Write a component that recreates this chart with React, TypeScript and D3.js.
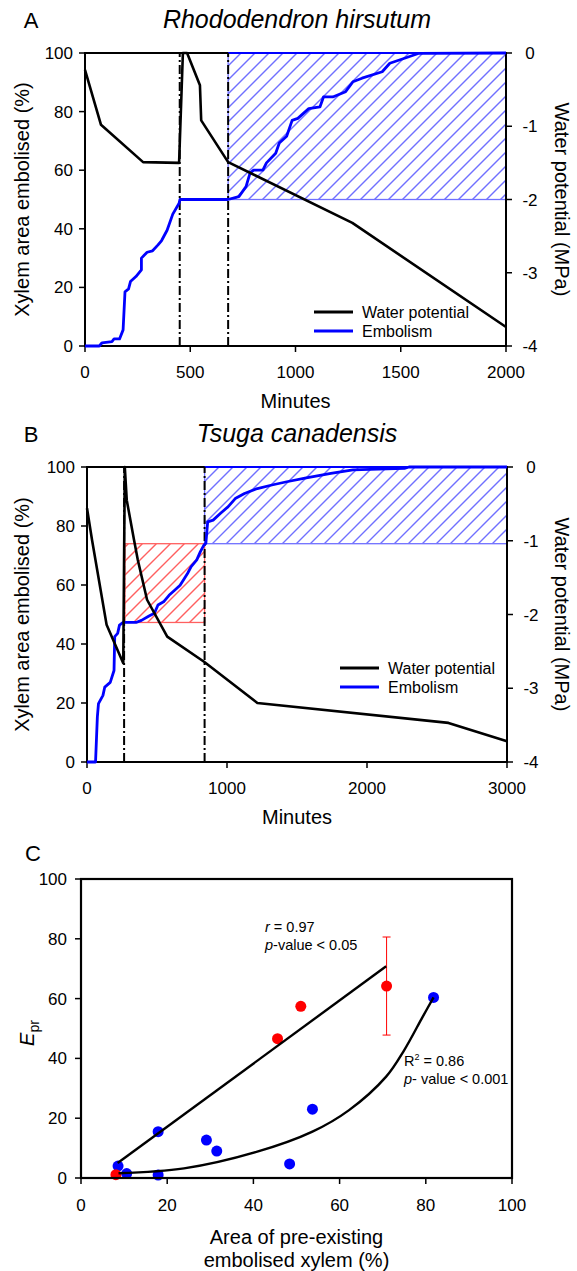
import React from 'react';
import * as d3 from 'd3';

const W = 577;
const H = 1271;
const FONT = "'Liberation Sans', Arial, Helvetica, sans-serif";

// ---------- shared ticks ----------
const pctTicks = [0, 20, 40, 60, 80, 100];
const wpTicks = [0, -1, -2, -3, -4];

// ---------- Panel A: Rhododendron hirsutum ----------
const aXTicks = [0, 500, 1000, 1500, 2000];
const aWpMin = [0, 76, 276, 447, 465, 485, 546, 552, 680, 1270, 2000];
const aWpMPa = [-0.23, -0.98, -1.49, -1.5, 0, 0, -0.44, -0.92, -1.49, -2.32, -3.74];
const aEmbMin = [0, 68, 81, 128, 138, 164, 181, 190, 207, 216, 242, 268, 268, 295, 321, 347, 364, 390, 417, 447, 451, 679, 731, 765, 784, 801, 845, 862, 906, 923, 958, 984, 1011, 1063, 1116, 1133, 1177, 1238, 1273, 1316, 1412, 1448, 1518, 1587, 2000];
const aEmbPct = [0, 0, 1.1, 1.5, 2.4, 2.4, 5.5, 18.5, 19.5, 22, 23.7, 26, 30, 32, 32.5, 34.5, 36, 39.5, 45, 48.7, 50, 50, 51, 54.4, 59, 60, 60, 62.5, 65.8, 69.3, 71.6, 77, 77.7, 81, 81.6, 85, 85, 86.8, 90.2, 91.4, 93.6, 96.5, 98.2, 99.9, 100];
const aEvents = [450, 680];
const aBlueHatch = [680, 2000, 50, 100];

// ---------- Panel B: Tsuga canadensis ----------
const bXTicks = [0, 1000, 2000, 3000];
const bWpMin = [0, 36, 140, 259, 270, 284, 336, 363, 429, 573, 836, 1217, 2582, 3000];
const bWpMPa = [-0.56, -0.99, -2.14, -2.66, 0, -0.45, -0.99, -1.26, -1.8, -2.3, -2.64, -3.2, -3.47, -3.72];
const bEmbMin = [0, 61, 74, 82, 114, 127, 166, 193, 198, 219, 232, 258, 350, 389, 443, 481, 507, 547, 586, 626, 665, 718, 744, 784, 810, 836, 849, 862, 901, 954, 1007, 1059, 1125, 1217, 1321, 1427, 1557, 1742, 1900, 2267, 2300, 3000];
const bEmbPct = [0, 0, 15.3, 19.8, 22.6, 25.4, 27, 31, 42.5, 43.6, 46.4, 47.3, 47.3, 48, 49.5, 50.4, 53.2, 54.3, 56.5, 58.2, 59.9, 63.9, 66.2, 68.5, 71.3, 73.6, 74.1, 81.4, 82, 84.3, 86.5, 89.3, 91, 92.7, 93.9, 95, 96.2, 97.8, 99, 99.5, 100, 100];
const bEvents = [265, 840];
const bRedHatch = [271, 840, 47.3, 74];
const bBlueHatch = [840, 3000, 74, 100];

// ---------- Panel C ----------
const cTicks = [0, 20, 40, 60, 80, 100];
const cRedX = [8.1, 45.6, 51, 70.9];
const cRedY = [1.1, 46.6, 57.4, 64.2];
const cRedErrIndex = 3;
const cRedErrLow = 47.8;
const cRedErrHigh = 80.6;
const cBlueX = [8.6, 10.6, 17.9, 17.9, 29.1, 31.5, 48.4, 53.7, 81.8];
const cBlueY = [4.0, 1.5, 15.5, 1.0, 12.7, 9.0, 4.7, 23.0, 60.4];
const cRedFitX = [8.5, 70.8];
const cRedFitY = [5.0, 70.8];
const cBlueFitX = [8.7, 23.9, 40.9, 53.7, 62.2, 70.8, 75, 79.3, 81.8];
const cBlueFitY = [1.6, 3.2, 8.8, 15.5, 22.7, 33.9, 42.8, 54, 60.4];

const BLUE = '#0000ff';
const HATCH_BLUE = '#7070ff';
const HATCH_RED = '#ff6060';
const HATCH_STEP = 14;

type PanelProps = {
  id: string;
  letter: string;
  title: string;
  left: number; right: number; top: number; bottom: number;
  xMax: number; xTicks: number[];
  wpMin: number[]; wpVal: number[];
  embMin: number[]; embPct: number[];
  events: number[];
  blueHatch: number[];
  redHatch?: number[];
  legendX: number; legendY: number;
};

function Hatch({ id, x0, x1, y0, y1, color }: { id: string; x0: number; x1: number; y0: number; y1: number; color: string }) {
  const cStart = Math.floor((x0 + y0) / HATCH_STEP) * HATCH_STEP;
  const cs = d3.range(cStart, x1 + y1 + HATCH_STEP, HATCH_STEP);
  return (
    <g>
      <clipPath id={id}>
        <rect x={x0} y={y0} width={x1 - x0} height={y1 - y0} />
      </clipPath>
      <g clipPath={`url(#${id})`}>
        {cs.map((c) => (
          <line key={c} x1={c - y1} y1={y1} x2={c - y0} y2={y0} stroke={color} strokeWidth={1.4} />
        ))}
      </g>
      <rect x={x0} y={y0} width={x1 - x0} height={y1 - y0} fill="none" stroke={color} strokeWidth={1.3} />
    </g>
  );
}

function TimePanel(p: PanelProps) {
  const x = d3.scaleLinear().domain([0, p.xMax]).range([p.left, p.right]);
  const y = d3.scaleLinear().domain([0, 100]).range([p.bottom, p.top]);
  const yr = d3.scaleLinear().domain([-4, 0]).range([p.bottom, p.top]);
  const wpLine = d3.line<number>().x((d) => x(p.wpMin[d])).y((d) => yr(p.wpVal[d]));
  const embLine = d3.line<number>().x((d) => x(p.embMin[d])).y((d) => y(p.embPct[d]));
  const midY = (p.top + p.bottom) / 2;
  return (
    <g fontFamily={FONT}>
      <text x={31} y={p.top - 25} fontSize={22} textAnchor="middle">{p.letter}</text>
      <text x={297} y={p.top - 25} fontSize={25} fontStyle="italic" textAnchor="middle">{p.title}</text>
      {p.redHatch && (
        <Hatch id={p.id + 'red'} x0={x(p.redHatch[0])} x1={x(p.redHatch[1])} y0={y(p.redHatch[3])} y1={y(p.redHatch[2])} color={HATCH_RED} />
      )}
      <Hatch id={p.id + 'blue'} x0={x(p.blueHatch[0])} x1={x(p.blueHatch[1])} y0={y(p.blueHatch[3])} y1={y(p.blueHatch[2])} color={HATCH_BLUE} />
      <rect x={p.left} y={p.top} width={p.right - p.left} height={p.bottom - p.top}
        fill="none" stroke="#000" strokeWidth={2} />
      <line x1={x(p.blueHatch[0])} x2={p.right} y1={p.top} y2={p.top} stroke={BLUE} strokeWidth={2} />
      {pctTicks.map((t) => (
        <g key={'l' + t}>
          <line x1={p.left - 6} x2={p.left} y1={y(t)} y2={y(t)} stroke="#000" strokeWidth={1.5} />
          <text x={p.left - 12} y={y(t) + 6} fontSize={17} textAnchor="end">{t}</text>
        </g>
      ))}
      {wpTicks.map((t) => (
        <g key={'r' + t}>
          <line x1={p.right} x2={p.right + 6} y1={yr(t)} y2={yr(t)} stroke="#000" strokeWidth={1.5} />
          <text x={p.right + 24} y={yr(t) + 6} fontSize={17} textAnchor="middle">{t}</text>
        </g>
      ))}
      {p.xTicks.map((t) => (
        <g key={'b' + t}>
          <line x1={x(t)} x2={x(t)} y1={p.bottom} y2={p.bottom + 6} stroke="#000" strokeWidth={1.5} />
          <text x={x(t)} y={p.bottom + 32} fontSize={17} textAnchor="middle">{t}</text>
        </g>
      ))}
      <text x={(p.left + p.right) / 2} y={p.bottom + 62} fontSize={20} textAnchor="middle">Minutes</text>
      <text transform={`translate(29,${midY}) rotate(-90)`} fontSize={20} textAnchor="middle">Xylem area embolised (%)</text>
      <text transform={`translate(555,${midY}) rotate(90)`} fontSize={20} textAnchor="middle">Water potential (MPa)</text>
      {p.events.map((e) => (
        <line key={'e' + e} x1={x(e)} x2={x(e)} y1={p.bottom} y2={p.top}
          stroke="#000" strokeWidth={2} strokeDasharray="9,3,2,3" />
      ))}
      <path d={embLine(d3.range(p.embMin.length)) || ''} fill="none" stroke={BLUE} strokeWidth={2.8} strokeLinejoin="round" />
      <path d={wpLine(d3.range(p.wpMin.length)) || ''} fill="none" stroke="#000" strokeWidth={2.6} strokeLinejoin="round" />
      <line x1={p.legendX} x2={p.legendX + 39} y1={p.legendY} y2={p.legendY} stroke="#000" strokeWidth={3} />
      <text x={p.legendX + 48} y={p.legendY + 5.5} fontSize={16}>Water potential</text>
      <line x1={p.legendX} x2={p.legendX + 39} y1={p.legendY + 19} y2={p.legendY + 19} stroke={BLUE} strokeWidth={3} />
      <text x={p.legendX + 48} y={p.legendY + 24.5} fontSize={16}>Embolism</text>
    </g>
  );
}

function PanelC() {
  const left = 81, right = 512, top = 879, bottom = 1178;
  const x = d3.scaleLinear().domain([0, 100]).range([left, right]);
  const y = d3.scaleLinear().domain([0, 100]).range([bottom, top]);
  const redFit = d3.line<number>().x((i) => x(cRedFitX[i])).y((i) => y(cRedFitY[i]));
  const blueFit = d3.line<number>().x((i) => x(cBlueFitX[i])).y((i) => y(cBlueFitY[i])).curve(d3.curveCatmullRom.alpha(0.5));
  const ex = x(cRedX[cRedErrIndex]);
  return (
    <g fontFamily={FONT}>
      <text x={33} y={861} fontSize={22} textAnchor="middle">C</text>
      {cTicks.map((t) => (
        <g key={'cy' + t}>
          <line x1={left - 6} x2={left} y1={y(t)} y2={y(t)} stroke="#000" strokeWidth={1.5} />
          <text x={left - 14} y={y(t) + 6} fontSize={17} textAnchor="end">{t}</text>
          <line x1={x(t)} x2={x(t)} y1={bottom} y2={bottom + 6} stroke="#000" strokeWidth={1.5} />
          <text x={x(t)} y={bottom + 33} fontSize={17} textAnchor="middle">{t}</text>
        </g>
      ))}
      <text x={(left + right) / 2} y={1244} fontSize={20} textAnchor="middle">Area of pre-existing</text>
      <text x={(left + right) / 2} y={1267} fontSize={20} textAnchor="middle">embolised xylem (%)</text>
      <text transform={`translate(34,1033) rotate(-90)`} fontSize={20} textAnchor="middle">
        <tspan fontStyle="italic">E</tspan><tspan fontSize={14} dy={5}>pr</tspan>
      </text>
      <line x1={ex} x2={ex} y1={y(cRedErrLow)} y2={y(cRedErrHigh)} stroke="#ff0000" strokeWidth={1} />
      <line x1={ex - 4} x2={ex + 4} y1={y(cRedErrLow)} y2={y(cRedErrLow)} stroke="#ff0000" strokeWidth={1} />
      <line x1={ex - 4} x2={ex + 4} y1={y(cRedErrHigh)} y2={y(cRedErrHigh)} stroke="#ff0000" strokeWidth={1} />
      {cBlueX.map((v, i) => (
        <circle key={'b' + i} cx={x(v)} cy={y(cBlueY[i])} r={5.5} fill={BLUE} />
      ))}
      {cRedX.map((v, i) => (
        <circle key={'r' + i} cx={x(v)} cy={y(cRedY[i])} r={5.5} fill="#ff0000" />
      ))}
      <path d={redFit(d3.range(cRedFitX.length)) || ''} fill="none" stroke="#000" strokeWidth={2.4} />
      <path d={blueFit(d3.range(cBlueFitX.length)) || ''} fill="none" stroke="#000" strokeWidth={2.4} />
      <rect x={left} y={top} width={right - left} height={bottom - top} fill="none" stroke="#000" strokeWidth={2.2} />
      <text x={265} y={932} fontSize={14.5}><tspan fontStyle="italic">r</tspan> = 0.97</text>
      <text x={265} y={950} fontSize={14.5}><tspan fontStyle="italic">p</tspan>-value &lt; 0.05</text>
      <text x={404} y={1066} fontSize={14.5}>R<tspan fontSize={9} dy={-6}>2</tspan><tspan dy={6}> = 0.86</tspan></text>
      <text x={404} y={1084} fontSize={14.5}><tspan fontStyle="italic">p</tspan>- value &lt; 0.001</text>
    </g>
  );
}

export default function App() {
  return (
    <svg width={W} height={H} viewBox={`0 0 ${W} ${H}`} style={{ display: 'block', position: 'absolute', left: 0, top: 0, background: '#fff' }}>
      <rect width={W} height={H} fill="#fff" />
      <TimePanel id="a" letter="A" title="Rhododendron hirsutum" left={85} right={506} top={53} bottom={346}
        xMax={2000} xTicks={aXTicks} wpMin={aWpMin} wpVal={aWpMPa} embMin={aEmbMin} embPct={aEmbPct}
        events={aEvents} blueHatch={aBlueHatch} legendX={314} legendY={312} />
      <TimePanel id="b" letter="B" title="Tsuga canadensis" left={87} right={507} top={467} bottom={762}
        xMax={3000} xTicks={bXTicks} wpMin={bWpMin} wpVal={bWpMPa} embMin={bEmbMin} embPct={bEmbPct}
        events={bEvents} blueHatch={bBlueHatch} redHatch={bRedHatch} legendX={340} legendY={668} />
      <PanelC />
    </svg>
  );
}
